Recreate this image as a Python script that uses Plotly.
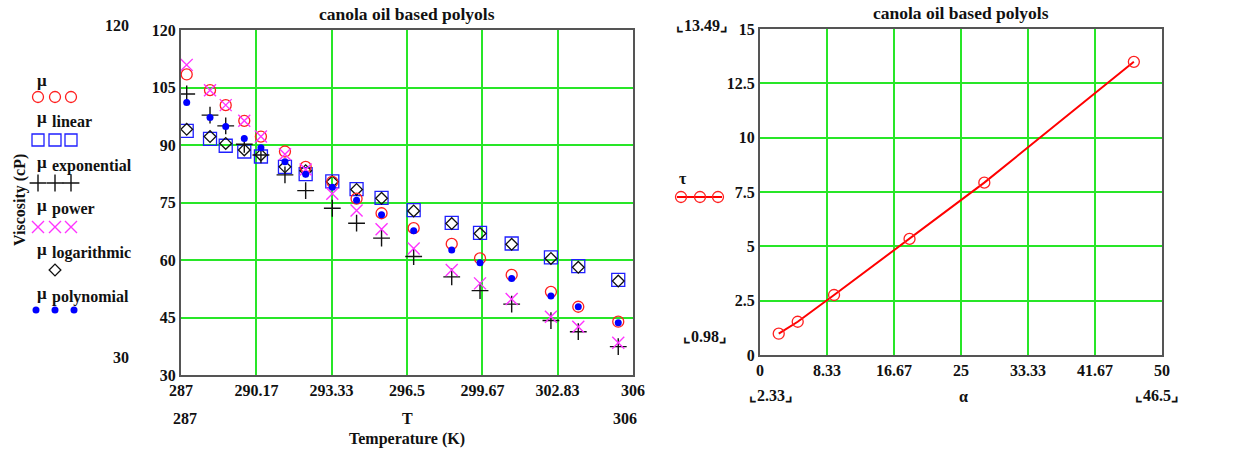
import plotly.graph_objects as go

# ---------------- data ----------------
T = [287.24, 288.22, 288.88, 289.66, 290.36, 291.37, 292.24, 293.36, 294.38,
     295.43, 296.78, 298.38, 299.57, 300.9, 302.55, 303.7, 305.38]
mu = [108.4, 104.3, 100.4, 96.3, 92.2, 88.3, 84.3, 80.4, 76.0,
      72.2, 68.3, 64.2, 60.4, 56.1, 51.7, 47.8, 43.9]
mu_linear = [93.7, 91.6, 89.8, 88.3, 87.0, 84.3, 82.4, 80.5, 78.5,
             76.2, 73.0, 69.7, 67.1, 64.3, 60.7, 58.4, 54.8]
mu_exponential = [103.3, 97.8, 95.0, 90.2, 87.4, 82.2, 78.1, 73.5, 69.6,
                  65.7, 60.9, 55.6, 52.0, 48.5, 44.2, 41.3, 37.4]
mu_power = [110.9, 104.3, 100.4, 96.3, 92.2, 87.6, 83.6, 77.3, 72.9,
            68.0, 63.0, 57.4, 53.9, 49.8, 45.2, 42.6, 38.4]
mu_logarithmic = [94.1, 92.2, 90.4, 88.7, 87.4, 84.3, 83.3, 80.4, 78.4,
                  76.1, 72.8, 69.5, 66.9, 64.1, 60.4, 58.1, 54.5]
mu_polynomial = [101.1, 97.2, 94.8, 91.7, 89.3, 85.6, 82.4, 79.0, 75.6,
                 71.8, 67.6, 62.6, 59.3, 55.2, 50.6, 47.8, 43.6]

x_ticks = [287, 290.17, 293.33, 296.5, 299.67, 302.83, 306]
x_ticktext = ["287", "290.17", "293.33", "296.5", "299.67", "302.83", "306"]
y_ticks = [30, 45, 60, 75, 90, 105, 120]

alpha = [2.33, 4.69, 9.21, 18.6, 27.9, 46.5]
tau = [0.98, 1.53, 2.76, 5.34, 7.93, 13.49]
a_ticks = [0, 8.33, 16.67, 25, 33.33, 41.67, 50]
a_ticktext = ["0", "8.33", "16.67", "25", "33.33", "41.67", "50"]
t_ticks = [0, 2.5, 5, 7.5, 10, 12.5, 15]
t_ticktext = ["0", "2.5", "5", "7.5", "10", "12.5", "15"]

W, H = 1241, 451
FONT = "Liberation Serif"
GRID = "rgb(40,230,40)"
FRAME = "#555555"
FS = 16


def px(x):
    return x / W


def py(y):
    return 1 - y / H


fig = go.Figure()


def sc(x, y, symbol, color, size, width=1.3, xa="x", ya="y"):
    fig.add_trace(go.Scatter(x=x, y=y, mode="markers", xaxis=xa, yaxis=ya,
                             marker=dict(symbol=symbol, size=size, color=color,
                                         line=dict(width=width, color=color)),
                             showlegend=False, hoverinfo="skip"))


# left chart series
sc(T, mu_linear, "square-open", "#1f1fff", 13)
sc(T, mu_logarithmic, "diamond-open", "#111111", 9)
sc(T, mu, "circle-open", "#ff2020", 11)
sc(T, mu_exponential, "cross-thin-open", "#111111", 12, 1.4)
sc(T, mu_power, "x-thin-open", "#ff33ff", 12, 1.4)
sc(T, mu_polynomial, "circle", "#0000ff", 7, 0)

# right chart
fig.add_trace(go.Scatter(x=alpha, y=tau, mode="lines+markers", xaxis="x2", yaxis="y2",
                         line=dict(color="#ff0000", width=2),
                         marker=dict(symbol="circle-open", size=11, color="#ff2020",
                                     line=dict(width=1.3, color="#ff2020")),
                         showlegend=False, hoverinfo="skip"))

# legend glyphs on a hidden page-pixel axis pair covering the whole figure
leg = [
    ([38, 55, 71], 97, "circle-open", "#ff2020", 11, 1.3),
    ([38, 55, 71], 140, "square-open", "#1f1fff", 12, 1.3),
    ([38, 55, 71], 183, "cross-thin-open", "#111111", 12, 1.4),
    ([38, 55, 71], 227, "x-thin-open", "#ff33ff", 12, 1.4),
    ([55], 270, "diamond-open", "#111111", 9, 1.3),
    ([36, 55, 74], 310, "circle", "#0000ff", 7, 0),
]
for xs, yy, sym, col, size, w in leg:
    sc(xs, [yy] * len(xs), sym, col, size, w, "x3", "y3")
fig.add_trace(go.Scatter(x=[677, 722], y=[197, 197], mode="lines", xaxis="x3", yaxis="y3",
                         line=dict(color="#ff0000", width=2), showlegend=False, hoverinfo="skip"))
sc([681, 700, 718], [197, 197, 197], "circle-open", "#ff2020", 11, 1.3, "x3", "y3")

tickfont = dict(family=FONT, size=FS, color="#111111", weight="bold")
axis_common = dict(showgrid=True, gridcolor=GRID, gridwidth=1.5, zeroline=False,
                   showline=True, linecolor=FRAME, linewidth=2, mirror=True,
                   ticks="", tickfont=tickfont, automargin=False)

fig.update_layout(
    width=W, height=H, margin=dict(l=0, r=0, t=0, b=0, pad=0, autoexpand=False),
    paper_bgcolor="white", plot_bgcolor="rgba(0,0,0,0)",
    xaxis=dict(domain=[px(181), px(633)], range=[287, 306], tickvals=x_ticks,
               ticktext=x_ticktext, anchor="y", **axis_common),
    yaxis=dict(domain=[py(375), py(30)], range=[30, 120], tickvals=y_ticks,
               anchor="x", **axis_common),
    xaxis2=dict(domain=[px(760), px(1162)], range=[0, 50], tickvals=a_ticks,
                ticktext=a_ticktext, anchor="y2", **axis_common),
    yaxis2=dict(domain=[py(355), py(29)], range=[0, 15], tickvals=t_ticks,
                ticktext=t_ticktext, anchor="x2", **axis_common),
    xaxis3=dict(domain=[0, 1], range=[0, W], visible=False, anchor="y3",
                fixedrange=True),
    yaxis3=dict(domain=[0, 1], range=[H, 0], visible=False, anchor="x3",
                fixedrange=True),
)


def ann(x, y, text, size=FS, xanchor="center", angle=0):
    fig.add_annotation(x=x, y=y, xref="x3", yref="y3", text=text,
                       showarrow=False, xanchor=xanchor, yanchor="middle", textangle=angle,
                       font=dict(family=FONT, size=size, color="#111111", weight="bold"))


# left chart texts
ann(407, 14, "canola oil based polyols", 17.5)
ann(131, 25, "120", xanchor="right")
ann(131, 357, "30", xanchor="right")
ann(185, 418, "287")
ann(407, 418, "T")
ann(625, 418, "306")
ann(407, 439, "Temperature (K)")
ann(20, 200, "Viscosity (cP)", angle=-90)

legend_labels = [(80, None), (117, "linear"), (162, "exponential"), (205, "power"),
                 (249, "logarithmic"), (293, "polynomial")]
for yy, lab in legend_labels:
    ann(35, yy, "μ", 17, "left")
    if lab:
        ann(50, yy + 4, lab, FS, "left")

# right chart texts
ann(961, 13, "canola oil based polyols", 17.5)
ann(702, 25, "⌞13.49⌟")
ann(705, 336, "⌞0.98⌟")
ann(771, 395, "⌞2.33⌟")
ann(963, 396, "α")
ann(1157, 395, "⌞46.5⌟")
ann(683, 178, "τ")

fig.write_html("out.html")
